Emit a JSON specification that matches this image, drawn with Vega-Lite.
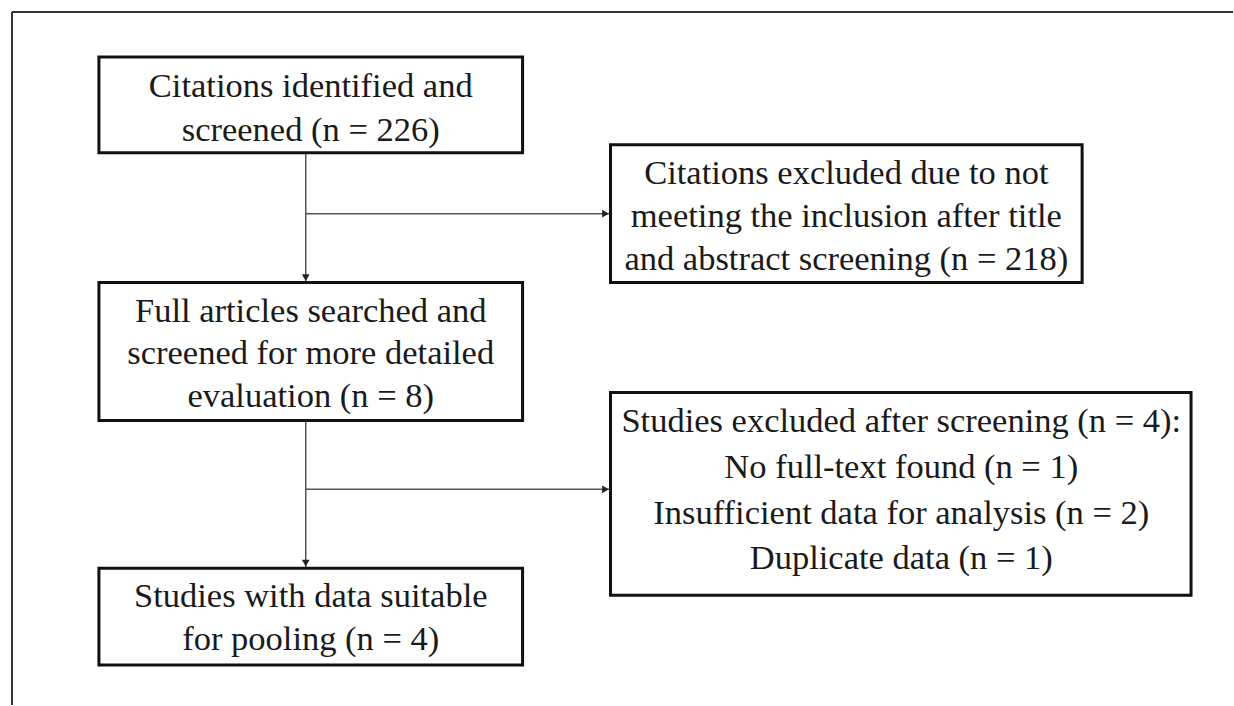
{
  "$schema": "https://vega.github.io/schema/vega-lite/v6.json",
  "width": 1234,
  "height": 706,
  "padding": 0,
  "autosize": {"type": "fit", "contains": "padding"},
  "background": "white",
  "config": {"view": {"stroke": null}},
  "datasets": {
    "boxes": [
      {"id": "identified", "x1": 99, "x2": 523, "y1": 57, "y2": 153},
      {"id": "excluded_title", "x1": 611, "x2": 1083, "y1": 145, "y2": 283},
      {"id": "full_articles", "x1": 99, "x2": 523, "y1": 283, "y2": 421},
      {"id": "excluded_screening", "x1": 611, "x2": 1192, "y1": 393, "y2": 596},
      {"id": "pooled", "x1": 99, "x2": 523, "y1": 569, "y2": 666}
    ],
    "frame": [
      {"x1": 12, "y1": 12, "x2": 1234, "y2": 12},
      {"x1": 12, "y1": 12, "x2": 12, "y2": 706}
    ],
    "links": [
      {"x1": 306, "y1": 153, "x2": 306, "y2": 283},
      {"x1": 306, "y1": 214, "x2": 611, "y2": 214},
      {"x1": 306, "y1": 421, "x2": 306, "y2": 569},
      {"x1": 306, "y1": 490, "x2": 611, "y2": 490}
    ],
    "down_heads": [
      {"x": 306, "y": 283},
      {"x": 306, "y": 569}
    ],
    "right_heads": [
      {"x": 611, "y": 214},
      {"x": 611, "y": 490}
    ],
    "labels": [
      {"x": 311, "y": 87, "text": "Citations identified and"},
      {"x": 311, "y": 131, "text": "screened (n = 226)"},
      {"x": 847, "y": 174, "text": "Citations excluded due to not"},
      {"x": 847, "y": 217, "text": "meeting the inclusion after title"},
      {"x": 847, "y": 260, "text": "and abstract screening (n = 218)"},
      {"x": 311, "y": 312, "text": "Full articles searched and"},
      {"x": 311, "y": 355, "text": "screened for more detailed"},
      {"x": 311, "y": 398, "text": "evaluation (n = 8)"},
      {"x": 902, "y": 423, "text": "Studies excluded after screening (n = 4):"},
      {"x": 902, "y": 469, "text": "No full-text found (n = 1)"},
      {"x": 902, "y": 515, "text": "Insufficient data for analysis (n = 2)"},
      {"x": 902, "y": 560, "text": "Duplicate data (n = 1)"},
      {"x": 311, "y": 598, "text": "Studies with data suitable"},
      {"x": 311, "y": 641, "text": "for pooling (n = 4)"}
    ]
  },
  "layer": [
    {
      "data": {"name": "frame"},
      "mark": {"type": "rule", "color": "#333333", "strokeWidth": 2},
      "encoding": {
        "x": {"field": "x1", "type": "quantitative", "scale": {"domain": [0, 1234], "nice": false, "zero": false}, "axis": null},
        "y": {"field": "y1", "type": "quantitative", "scale": {"domain": [0, 706], "nice": false, "zero": false, "reverse": true}, "axis": null},
        "x2": {"field": "x2"},
        "y2": {"field": "y2"}
      }
    },
    {
      "data": {"name": "links"},
      "mark": {"type": "rule", "color": "#555555", "strokeWidth": 1.5},
      "encoding": {
        "x": {"field": "x1", "type": "quantitative", "axis": null},
        "y": {"field": "y1", "type": "quantitative", "axis": null},
        "x2": {"field": "x2"},
        "y2": {"field": "y2"}
      }
    },
    {
      "data": {"name": "boxes"},
      "mark": {"type": "rect", "fill": "white", "stroke": "#111111", "strokeWidth": 3},
      "encoding": {
        "x": {"field": "x1", "type": "quantitative", "axis": null},
        "y": {"field": "y1", "type": "quantitative", "axis": null},
        "x2": {"field": "x2"},
        "y2": {"field": "y2"}
      }
    },
    {
      "data": {"name": "down_heads"},
      "mark": {"type": "point", "shape": "triangle-down", "filled": true, "color": "#222222", "size": 60, "yOffset": -5, "opacity": 1},
      "encoding": {
        "x": {"field": "x", "type": "quantitative", "axis": null},
        "y": {"field": "y", "type": "quantitative", "axis": null}
      }
    },
    {
      "data": {"name": "right_heads"},
      "mark": {"type": "point", "shape": "triangle-right", "filled": true, "color": "#222222", "size": 60, "xOffset": -5, "opacity": 1},
      "encoding": {
        "x": {"field": "x", "type": "quantitative", "axis": null},
        "y": {"field": "y", "type": "quantitative", "axis": null}
      }
    },
    {
      "data": {"name": "labels"},
      "mark": {"type": "text", "font": "Liberation Serif", "fontSize": 34.5, "color": "#1a1a1a", "align": "center", "baseline": "middle"},
      "encoding": {
        "x": {"field": "x", "type": "quantitative", "axis": null},
        "y": {"field": "y", "type": "quantitative", "axis": null},
        "text": {"field": "text"}
      }
    }
  ]
}
